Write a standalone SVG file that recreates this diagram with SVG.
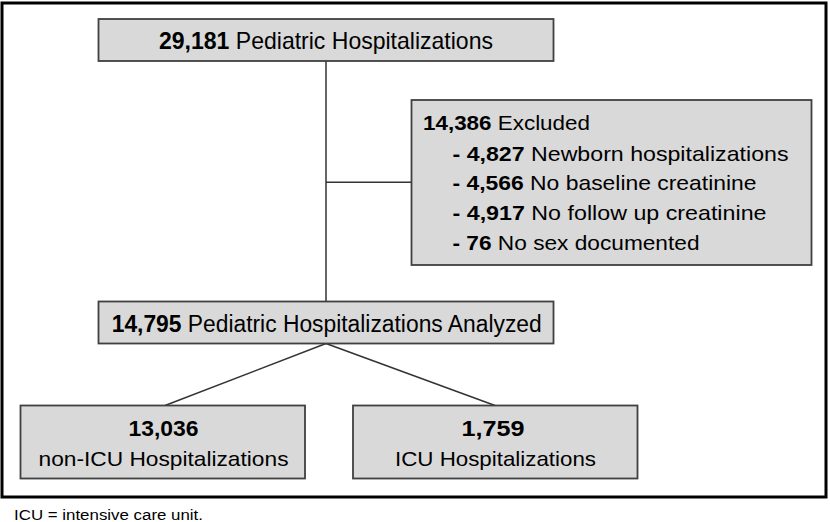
<svg xmlns="http://www.w3.org/2000/svg" width="830" height="522" viewBox="0 0 830 522">
<style>
.box{fill:#d9d9d9;stroke:#404040;stroke-width:1.8}
.t{font-family:"Liberation Sans",Arial,sans-serif;fill:#000}
.b{font-weight:bold}
.c{stroke:#333;stroke-width:1.5;fill:none}
</style>
<rect x="0" y="0" width="830" height="522" fill="#fff"/>
<rect x="2" y="3" width="824" height="494" fill="none" stroke="#000" stroke-width="3"/>
<g id="connectors">
<line class="c" x1="326" y1="61" x2="326" y2="301.5"/>
<line class="c" x1="326" y1="182.3" x2="411.5" y2="182.3"/>
<line class="c" x1="326" y1="343.5" x2="165" y2="405.5"/>
<line class="c" x1="326" y1="343.5" x2="495" y2="405.5"/>
</g>
<g id="total">
<rect class="box" x="98.5" y="19" width="455" height="42"/>
<text class="t" x="159" y="48.5" font-size="24" textLength="334" lengthAdjust="spacingAndGlyphs"><tspan class="b">29,181</tspan> Pediatric Hospitalizations</text>
</g>
<g id="excluded">
<rect class="box" x="411.5" y="100" width="400" height="165"/>
<text class="t" x="423" y="129.5" font-size="21" textLength="167" lengthAdjust="spacingAndGlyphs"><tspan class="b">14,386</tspan> Excluded</text>
<text class="t" x="452.5" y="160.5" font-size="21" textLength="336" lengthAdjust="spacingAndGlyphs"><tspan class="b">- 4,827</tspan> Newborn hospitalizations</text>
<text class="t" x="452.5" y="190" font-size="21" textLength="304" lengthAdjust="spacingAndGlyphs"><tspan class="b">- 4,566</tspan> No baseline creatinine</text>
<text class="t" x="452.5" y="220" font-size="21" textLength="314" lengthAdjust="spacingAndGlyphs"><tspan class="b">- 4,917</tspan> No follow up creatinine</text>
<text class="t" x="452.5" y="249.5" font-size="21" textLength="247" lengthAdjust="spacingAndGlyphs"><tspan class="b">- 76</tspan> No sex documented</text>
</g>
<g id="analyzed">
<rect class="box" x="98.5" y="301.5" width="455" height="42"/>
<text class="t" x="111.7" y="331.7" font-size="23" textLength="430" lengthAdjust="spacingAndGlyphs"><tspan class="b">14,795</tspan> Pediatric Hospitalizations Analyzed</text>
</g>
<g id="nonicu">
<rect class="box" x="20.5" y="405.5" width="284.5" height="73"/>
<text class="t b" x="128.5" y="436" font-size="22" textLength="70" lengthAdjust="spacingAndGlyphs">13,036</text>
<text class="t" x="38.5" y="465.5" font-size="21" textLength="250" lengthAdjust="spacingAndGlyphs">non-ICU Hospitalizations</text>
</g>
<g id="icu">
<rect class="box" x="353" y="405.5" width="284.5" height="73"/>
<text class="t b" x="461.5" y="436" font-size="22" textLength="63" lengthAdjust="spacingAndGlyphs">1,759</text>
<text class="t" x="395" y="465.5" font-size="21" textLength="201" lengthAdjust="spacingAndGlyphs">ICU Hospitalizations</text>
</g>
<text class="t" x="14" y="520" font-size="14" textLength="189" lengthAdjust="spacingAndGlyphs">ICU = intensive care unit.</text>
</svg>
